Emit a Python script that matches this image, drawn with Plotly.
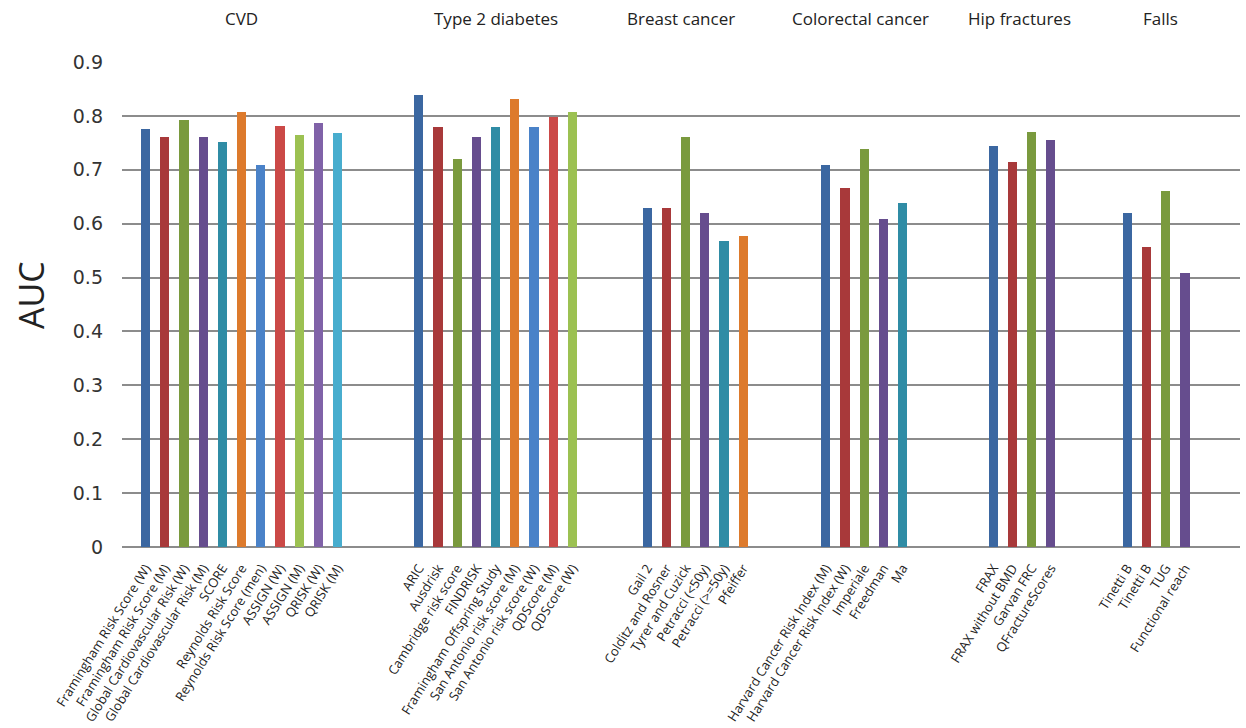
import plotly.graph_objects as go

# ---- data ----
groups = ["CVD", "Type 2 diabetes", "Breast cancer", "Colorectal cancer", "Hip fractures", "Falls"]

cvd_labels = ["Framingham Risk Score (W)", "Framingham Risk Score (M)", "Global Cardiovascular Risk (W)",
              "Global Cardiovascular Risk (M)", "SCORE", "Reynolds Risk Score", "Reynolds Risk Score (men)",
              "ASSIGN (W)", "ASSIGN (M)", "QRISK (W)", "QRISK (M)"]
cvd_auc = [0.775, 0.760, 0.793, 0.760, 0.752, 0.808, 0.708, 0.782, 0.764, 0.786, 0.768]

t2d_labels = ["ARIC", "Ausdrisk", "Cambridge risk score", "FINDRISK", "Framingham Offspring Study",
              "San Antonio risk score (M)", "San Antonio risk score (W)", "QDScore (M)", "QDScore (W)"]
t2d_auc = [0.838, 0.779, 0.720, 0.760, 0.779, 0.831, 0.779, 0.798, 0.808]

breast_labels = ["Gail 2", "Colditz and Rosner", "Tyrer and Cuzick", "Petracci (<50y)", "Petracci (>=50y)", "Pfeiffer"]
breast_auc = [0.630, 0.630, 0.760, 0.619, 0.567, 0.578]

crc_labels = ["Harvard Cancer Risk Index (M)", "Harvard Cancer Risk Index (W)", "Imperiale", "Freedman", "Ma"]
crc_auc = [0.708, 0.667, 0.738, 0.608, 0.638]

hip_labels = ["FRAX", "FRAX without BMD", "Garvan FRC", "QFractureScores"]
hip_auc = [0.745, 0.715, 0.771, 0.756]

falls_labels = ["Tinetti B", "Tinetti B", "TUG", "Functional reach"]
falls_auc = [0.619, 0.556, 0.660, 0.508]

y_ticks = [0, 0.1, 0.2, 0.3, 0.4, 0.5, 0.6, 0.7, 0.8, 0.9]
y_tick_text = ["0", "0.1", "0.2", "0.3", "0.4", "0.5", "0.6", "0.7", "0.8", "0.9"]

# ---- styling / layout ----
palette = ["#3B67A1", "#A8393A", "#7A9A3E", "#664D8E", "#2F8CA5", "#DD7A2C",
           "#4A82C8", "#CB4947", "#9CC152", "#8062A8", "#48ADCE"]
group_starts = [0, 14.23, 26.12, 35.43, 44.15, 51.13]  # slot offsets of each group
header_shift = [0, 0, -14, -4, -3, 4]  # pixel nudges of group headers

all_labels = [cvd_labels, t2d_labels, breast_labels, crc_labels, hip_labels, falls_labels]
all_vals = [cvd_auc, t2d_auc, breast_auc, crc_auc, hip_auc, falls_auc]

fig = go.Figure()
tickvals, ticktext = [], []
annotations = []
for g, (labs, vals, start) in enumerate(zip(all_labels, all_vals, group_starts)):
    xs = [start + i for i in range(len(vals))]
    fig.add_trace(go.Bar(
        x=xs, y=vals, width=0.48,
        marker=dict(color=palette[:len(vals)], line=dict(width=0)),
        hovertext=labs, showlegend=False,
    ))
    tickvals += xs
    ticktext += labs
    annotations.append(dict(
        x=sum(xs) / len(xs), y=1.0907, xref="x", yref="paper", xshift=header_shift[g],
        text=groups[g], showarrow=False, xanchor="center", yanchor="middle",
        font=dict(family="Open Sans", size=17, color="#222222"),
    ))

annotations.append(dict(
    x=-0.082, y=0.52, xref="paper", yref="paper", text="AUC", textangle=-90,
    showarrow=False, xanchor="center", yanchor="middle",
    font=dict(family="Open Sans", size=34, color="#222222"),
))

fig.update_layout(
    width=1246, height=728,
    margin=dict(l=122, r=6, t=62, b=181),
    paper_bgcolor="white", plot_bgcolor="white",
    bargap=0,
    annotations=annotations,
    xaxis=dict(
        range=[-1.23, 57.0], tickmode="array", tickvals=tickvals, ticktext=ticktext,
        tickangle=-58, showgrid=False, zeroline=False, showline=False,
        ticks="", ticklabelstandoff=10, automargin=False,
        tickfont=dict(family="Open Sans", size=13, color="#222222"),
    ),
    yaxis=dict(
        range=[0, 0.9], tickmode="array", tickvals=y_ticks, ticktext=y_tick_text,
        showgrid=True, gridcolor="#8C8C8C", gridwidth=2,
        zeroline=True, zerolinecolor="#8C8C8C", zerolinewidth=2,
        showline=False, ticks="", ticklabelstandoff=18, automargin=False,
        tickfont=dict(family="DejaVu Sans", size=19, color="#333333"),
    ),
)

fig.write_html(
    "out.html",
    config={"displayModeBar": False},
    post_script="document.body.style.margin='0';document.body.style.overflow='hidden';",
)
